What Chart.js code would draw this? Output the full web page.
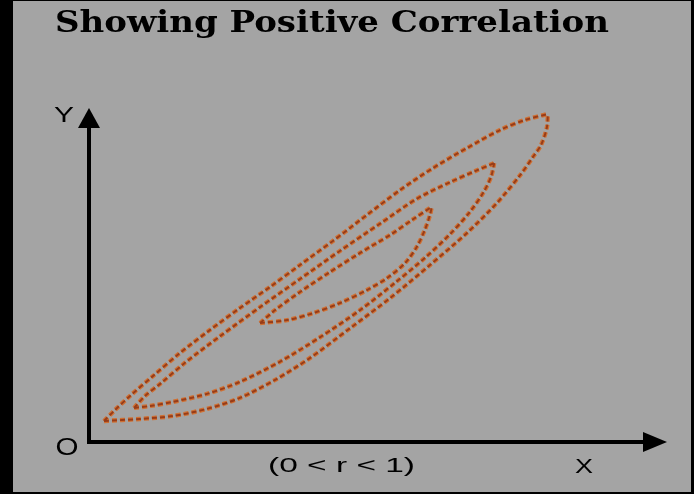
<!DOCTYPE html>
<html>
<head>
<meta charset="utf-8">
<script src="https://cdn.jsdelivr.net/npm/chart.js@4.4.1/dist/chart.umd.min.js"></script>
<style>
html, body { margin: 0; padding: 0; background: #000; }
#wrap { width: 694px; height: 494px; }
</style>
</head>
<body>
<div id="wrap"><canvas id="chart" width="694" height="494"></canvas></div>
<script>
// contour outlines (axis units 0-100)
// each contour is split in an upper and a lower edge, both running from the lower-left tip to the upper-right tip
var outerUpperX = [2.6, 4.5, 7.1, 10.9, 15.7, 20.9, 26.1, 31.3, 36.5, 42.2, 48.1, 53.8, 59.5, 65.4, 71.1, 75.4, 79.4];
var outerUpperY = [6.3, 9.6, 13.8, 19.5, 26.6, 33.5, 40.1, 46.4, 53.0, 60.2, 68.0, 75.4, 82.0, 88.0, 93.4, 96.4, 98.2];
var outerLowerX = [2.6, 8.8, 14.5, 20.4, 26.1, 32.2, 38.2, 45.2, 52.1, 59.0, 65.4, 70.6, 74.6, 76.8, 78.2, 79.2, 79.4];
var outerLowerY = [6.3, 6.9, 7.8, 9.9, 13.2, 18.6, 25.1, 34.1, 43.1, 53.0, 62.6, 71.6, 79.9, 85.3, 88.9, 94.0, 98.2];

var middleUpperX = [7.8, 9.7, 12.3, 16.6, 22.7, 29.6, 36.5, 43.4, 50.3, 56.7, 62.5, 66.8, 70.1];
var middleUpperY = [10.2, 13.8, 17.4, 23.7, 31.7, 40.4, 48.8, 57.2, 65.3, 72.8, 77.8, 81.1, 83.5];
var middleLowerX = [7.8, 10.6, 14.5, 20.4, 26.1, 33.0, 40.0, 46.9, 52.9, 58.1, 62.5, 65.9, 68.3, 69.6, 70.1];
var middleLowerY = [10.2, 10.8, 12.0, 14.4, 18.0, 24.0, 31.4, 39.5, 47.6, 55.1, 62.3, 68.9, 74.9, 79.6, 83.5];

var innerUpperX = [29.6, 32.2, 36.5, 41.7, 46.9, 52.1, 55.9, 59.3];
var innerUpperY = [35.6, 39.5, 44.9, 50.9, 56.6, 62.0, 66.5, 70.4];
var innerLowerX = [29.6, 34.3, 38.8, 43.4, 48.1, 51.6, 54.7, 56.7, 58.1, 59.0, 59.3];
var innerLowerY = [35.6, 36.5, 38.6, 41.6, 45.5, 49.1, 53.6, 58.4, 63.5, 68.0, 70.4];

var edges = [
    [outerUpperX, outerUpperY], [outerLowerX, outerLowerY],
    [middleUpperX, middleUpperY], [middleLowerX, middleLowerY],
    [innerUpperX, innerUpperY], [innerLowerX, innerLowerY]
];

function toPoints(xs, ys) {
    return xs.map(function (x, i) { return { x: x, y: ys[i] }; });
}

function edge(xs, ys, color, width, order) {
    return {
        data: toPoints(xs, ys),
        showLine: true,
        fill: false,
        borderColor: color,
        borderWidth: width,
        borderDash: [5, 3],
        tension: 0.3,
        pointRadius: 0,
        order: order
    };
}

// dark dash drawn on top of a wider orange rim
var datasets = [];
edges.forEach(function (e) {
    datasets.push(edge(e[0], e[1], '#cf7033', 4.4, 2));
    datasets.push(edge(e[0], e[1], '#983c18', 2, 1));
});

var backdrop = {
    id: 'backdrop',
    beforeDraw: function (chart) {
        var ctx = chart.ctx;
        ctx.save();
        ctx.fillStyle = '#000';
        ctx.fillRect(0, 0, chart.width, chart.height);
        ctx.fillStyle = '#a4a4a4';
        ctx.fillRect(13, 1, 678, 491);
        ctx.restore();
    }
};

// text in the picture is stretched sideways, so fit each label into its measured width
function stretchText(ctx, text, left, baseline, font, width) {
    ctx.save();
    ctx.font = font;
    ctx.textAlign = 'left';
    ctx.textBaseline = 'alphabetic';
    var w = ctx.measureText(text).width;
    ctx.translate(left, baseline);
    ctx.scale(width / w, 1);
    ctx.fillText(text, 0, 0);
    ctx.restore();
}

var axesArrows = {
    id: 'axesArrows',
    afterDatasetsDraw: function (chart) {
        var ctx = chart.ctx;
        var xs = chart.scales.x, ys = chart.scales.y;
        var x0 = xs.getPixelForValue(0), y0 = ys.getPixelForValue(0);
        var xEnd = xs.getPixelForValue(100), yEnd = ys.getPixelForValue(100);
        ctx.save();
        ctx.strokeStyle = '#000';
        ctx.fillStyle = '#000';
        ctx.lineWidth = 4;
        ctx.beginPath();
        ctx.moveTo(x0, yEnd + 14);
        ctx.lineTo(x0, y0);
        ctx.lineTo(xEnd - 14, y0);
        ctx.stroke();
        // arrow heads
        ctx.beginPath();
        ctx.moveTo(x0, yEnd);
        ctx.lineTo(x0 - 11, yEnd + 20);
        ctx.lineTo(x0 + 11, yEnd + 20);
        ctx.closePath();
        ctx.fill();
        ctx.beginPath();
        ctx.moveTo(xEnd, y0);
        ctx.lineTo(xEnd - 24, y0 - 10);
        ctx.lineTo(xEnd - 24, y0 + 10);
        ctx.closePath();
        ctx.fill();
        ctx.restore();

        var sans = '"Liberation Sans", Arial, sans-serif';
        stretchText(ctx, 'Y', 54, 122, '22px ' + sans, 20);
        stretchText(ctx, 'O', 55.5, 455, '23px ' + sans, 23);
        stretchText(ctx, '(0 < r < 1)', 268, 472, '21px ' + sans, 147);
        stretchText(ctx, 'X', 575, 473, '21px ' + sans, 18);
        stretchText(ctx, 'Showing Positive Correlation', 55, 32, 'bold 30px "DejaVu Serif", serif', 554);
    }
};

new Chart(document.getElementById('chart'), {
    type: 'scatter',
    data: { datasets: datasets },
    options: {
        responsive: false,
        animation: false,
        layout: { padding: { left: 89, right: 27, top: 108, bottom: 52 } },
        scales: {
            x: { type: 'linear', min: 0, max: 100, display: false },
            y: { type: 'linear', min: 0, max: 100, display: false }
        },
        plugins: {
            legend: { display: false },
            tooltip: { enabled: false }
        }
    },
    plugins: [backdrop, axesArrows]
});
</script>
</body>
</html>
